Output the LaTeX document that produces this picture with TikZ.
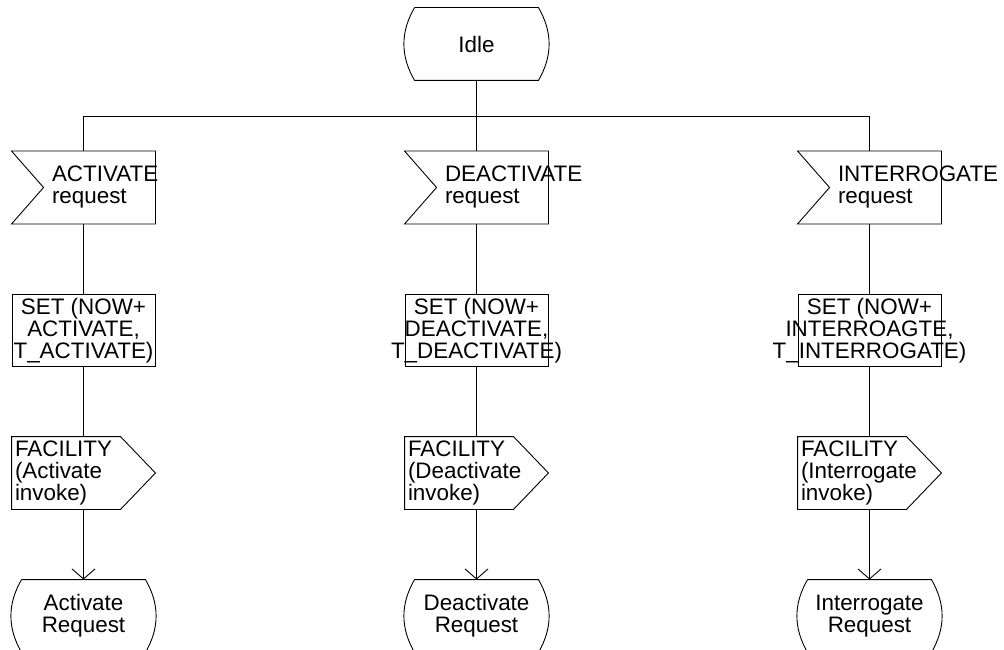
\documentclass[tikz,border=0pt]{standalone}
\usepackage{fontspec}
\setmainfont{Liberation Sans}
\usetikzlibrary{arrows.meta}

\tikzset{
  every node/.style={font=\fontsize{22.4}{22}\selectfont, inner sep=0pt, align=center},
  box/.style={minimum width=143pt, minimum height=72pt},
  lbl/.style={anchor=west, align=left},
  flow/.style={-{Straight Barb[length=10pt,width=23pt]}}
}

\begin{document}
\begin{tikzpicture}[x=1pt, y=-1pt, line width=0.9pt]
				\useasboundingbox (0,0) rectangle (1004,650);
				\node[box] (0) at (476.5, 44) {Idle};
				\node[box] (1) at (83.5, 187.5) {};
				\node[box] (2) at (476.5, 187.5) {};
				\node[box] (3) at (869.5, 187.5) {};
				\node[box, draw] (4) at (83.5, 330.5) {};
				\node[box, draw] (5) at (476.5, 330.5) {};
				\node[box, draw] (6) at (869.5, 330.5) {};
				\node[box] (7) at (83.5, 473) {};
				\node[box] (8) at (476.5, 473) {};
				\node[box] (9) at (869.5, 473) {};
				\node[box] (10) at (83.5, 616) {Activate\\Request};
				\node[box] (11) at (476.5, 616) {Deactivate\\Request};
				\node[box] (12) at (869.5, 616) {Interrogate\\Request};
				\node[lbl] (13) at ([xshift=40pt]1.west) {ACTIVATE\\request};
				\node[lbl] (14) at ([xshift=40pt]2.west) {DEACTIVATE\\request};
				\node[lbl] (15) at ([xshift=40pt]3.west) {INTERROGATE\\request};
				\node (16) at (4) {SET (NOW+\\ACTIVATE,\\T\_ACTIVATE)};
				\node (17) at (5) {SET (NOW+\\DEACTIVATE,\\T\_DEACTIVATE)};
				\node (18) at (6) {SET (NOW+\\INTERROAGTE,\\T\_INTERROGATE)};
				\node[lbl] (19) at ([xshift=3pt]7.west) {FACILITY\\(Activate\\invoke)};
				\node[lbl] (20) at ([xshift=3pt]8.west) {FACILITY\\(Deactivate\\invoke)};
				\node[lbl] (21) at ([xshift=3pt]9.west) {FACILITY\\(Interrogate\\invoke)};
				\coordinate (22) at (83.5, 116);
				\coordinate (23) at (869.5, 116);
				% states
				\draw ([xshift=10pt]0.north west) -- ([xshift=-10pt]0.north east) to[bend left=30] ([xshift=-10pt]0.south east) -- ([xshift=10pt]0.south west) to[bend left=30] ([xshift=10pt]0.north west);
				\draw ([xshift=10pt]10.north west) -- ([xshift=-10pt]10.north east) to[bend left=30] ([xshift=-10pt]10.south east) -- ([xshift=10pt]10.south west) to[bend left=30] ([xshift=10pt]10.north west);
				\draw ([xshift=10pt]11.north west) -- ([xshift=-10pt]11.north east) to[bend left=30] ([xshift=-10pt]11.south east) -- ([xshift=10pt]11.south west) to[bend left=30] ([xshift=10pt]11.north west);
				\draw ([xshift=10pt]12.north west) -- ([xshift=-10pt]12.north east) to[bend left=30] ([xshift=-10pt]12.south east) -- ([xshift=10pt]12.south west) to[bend left=30] ([xshift=10pt]12.north west);
				% inputs
				\draw (1.north west) -- (1.north east) -- (1.south east) -- (1.south west) -- ([xshift=32pt]1.west) -- cycle;
				\draw (2.north west) -- (2.north east) -- (2.south east) -- (2.south west) -- ([xshift=32pt]2.west) -- cycle;
				\draw (3.north west) -- (3.north east) -- (3.south east) -- (3.south west) -- ([xshift=32pt]3.west) -- cycle;
				% outputs
				\draw (7.north west) -- ([xshift=-35pt]7.north east) -- (7.east) -- ([xshift=-35pt]7.south east) -- (7.south west) -- cycle;
				\draw (8.north west) -- ([xshift=-35pt]8.north east) -- (8.east) -- ([xshift=-35pt]8.south east) -- (8.south west) -- cycle;
				\draw (9.north west) -- ([xshift=-35pt]9.north east) -- (9.east) -- ([xshift=-35pt]9.south east) -- (9.south west) -- cycle;
				% connectors
				\draw (0) to (2);
				\draw (22) to (23);
				\draw (22) to (1);
				\draw (23) to (3);
				\draw (1) to (4);
				\draw (2) to (5);
				\draw (3) to (6);
				\draw (4) to (7);
				\draw (5) to (8);
				\draw (6) to (9);
				\draw[flow] (7) to (10);
				\draw[flow] (8) to (11);
				\draw[flow] (9) to (12);
			\end{tikzpicture}
\end{document}
